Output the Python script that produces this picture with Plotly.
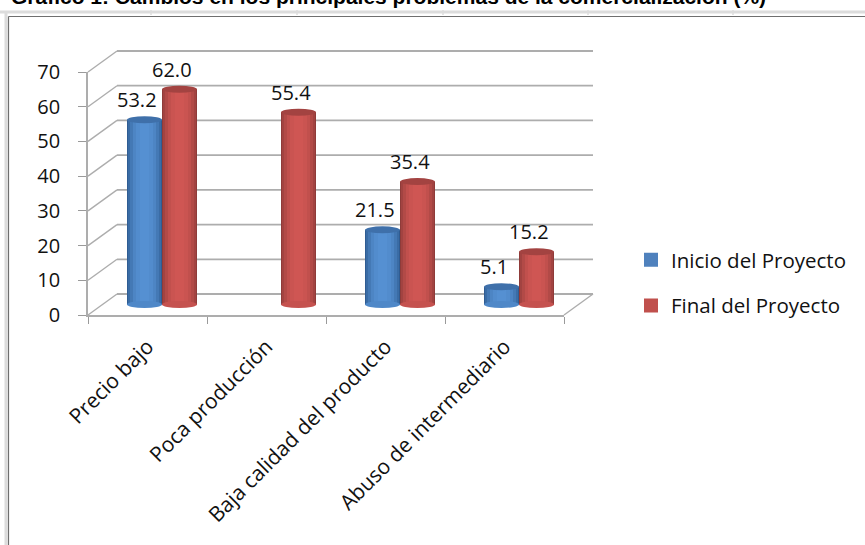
import plotly.graph_objects as go

categories = ["Precio bajo", "Poca producción", "Baja calidad del producto", "Abuso de intermediario"]
inicio = [53.2, None, 21.5, 5.1]
final = [62.0, 55.4, 35.4, 15.2]
y_ticks = [0, 10, 20, 30, 40, 50, 60, 70]
title = "Gráfico 1: Cambios en los principales problemas de la comercialización (%)"

W, H = 865, 545
L, R, T, B = 88, 564, 72, 315      # plot box in pixels
DX, DY = 29, 21                    # depth of the 3-D look in pixels
YMAX = 70
FONT = "Open Sans"
TXT = "#111111"
GRID = "#adadad"

px_x = (R - L) / 4                 # pixels per category
px_y = (B - T) / YMAX              # pixels per value unit
base_val = (DY / 2) / px_y
shift = (DX / 2) / px_x
bar_w = 35 / px_x


def mix(a, b, t):
    ca = [int(a[i:i + 2], 16) for i in (1, 3, 5)]
    cb = [int(b[i:i + 2], 16) for i in (1, 3, 5)]
    return "#" + "".join(f"{round(p + (q - p) * t):02x}" for p, q in zip(ca, cb))


def fx(p):
    return (p - L) / (R - L)


def fy(p):
    return (B - p) / (B - T)


series = [
    ("Inicio del Proyecto", inicio, "#4F81BD", "#2f5c92", "#5590d2", "#3f70aa", -1),
    ("Final del Proyecto", final, "#C0504D", "#8f3b39", "#cf5653", "#a34341", 0),
]

fig = go.Figure()
shapes = []
annots = []

# back wall and side wall gridlines
for v in y_ticks:
    yf = v / YMAX
    dy = DY / (B - T)
    dx = DX / (R - L)
    shapes.append(dict(type="line", xref="paper", yref="paper", x0=dx, x1=1 + dx, y0=yf + dy, y1=yf + dy,
                       line=dict(color=GRID, width=1.8), layer="below"))
    shapes.append(dict(type="line", xref="paper", yref="paper", x0=0, x1=dx, y0=yf, y1=yf + dy,
                       line=dict(color=GRID, width=1.4), layer="below"))
shapes.append(dict(type="line", xref="paper", yref="paper", x0=1, x1=1 + DX / (R - L), y0=0, y1=DY / (B - T),
                   line=dict(color=GRID, width=1.4), layer="below"))

# cylinders
profile = [0.0, 0.3, 0.55, 0.78, 0.92, 1.0]
widths = [1.0, 0.92, 0.82, 0.68, 0.5, 0.28]
for name, vals, color, edge, centre, top, side in series:
    off_left = shift + side * bar_w
    inner = bar_w * 0.8
    fig.add_trace(go.Bar(x=categories, y=vals, base=base_val, name=name, width=inner,
                         offset=off_left + (bar_w - inner) / 2,
                         marker=dict(color=color, line=dict(width=2, color=color)), legendgroup=name,
                         hoverinfo="skip"))
    for t, w in zip(profile, widths):
        sw = bar_w * w
        fig.add_trace(go.Bar(x=categories, y=vals, base=base_val, width=sw,
                             offset=off_left + (bar_w - sw) / 2,
                             marker=dict(color=mix(edge, centre, t), line=dict(width=0)),
                             showlegend=False, hoverinfo="skip", legendgroup=name))
    for i, v in enumerate(vals):
        if v is None:
            continue
        x0 = i + off_left
        x1 = x0 + bar_w
        h = 3.5 / px_y
        shapes.append(dict(type="circle", xref="x", yref="y", x0=x0, x1=x1,
                           y0=base_val - h, y1=base_val + h,
                           fillcolor=mix(edge, centre, 0.85), line=dict(width=0), layer="above"))
        shapes.append(dict(type="circle", xref="x", yref="y", x0=x0, x1=x1,
                           y0=base_val + v - h, y1=base_val + v + h,
                           fillcolor=top, line=dict(width=0), layer="above"))
        annots.append(dict(xref="x", yref="y", x=x0 + bar_w / 2, y=base_val + v, text=f"{v:.1f}",
                           showarrow=False, xshift=-8, yshift=20,
                           font=dict(family=FONT, size=20, color=TXT)))


# sheet furniture around the chart
def pline(x0, y0, x1, y1, color, width):
    shapes.append(dict(type="line", xref="paper", yref="paper", x0=fx(x0), x1=fx(x1), y0=fy(y0), y1=fy(y1),
                       line=dict(color=color, width=width), layer="below"))


pline(0, 12, W, 12, "#dcdcdc", 3)
pline(6, 12, 6, H, "#dcdcdc", 3)
pline(8.5, 16.5, W, 16.5, "#6f6f6f", 1.2)
pline(8.5, 16.5, 8.5, H, "#6f6f6f", 1.2)
for cx in (151, 297, 443, 588, 733):
    pline(cx, 10, cx, 15, "#dcdcdc", 1.5)

annots.append(dict(xref="paper", yref="paper", x=fx(9), y=fy(10), xanchor="left", yanchor="bottom",
                   text=f"<b>{title}</b>", showarrow=False,
                   font=dict(family="Liberation Sans", size=21, color="#000000")))

fig.update_layout(
    width=W, height=H,
    margin=dict(l=L, r=W - R, t=T, b=H - B, pad=0),
    paper_bgcolor="white", plot_bgcolor="rgba(0,0,0,0)",
    barmode="overlay", bargap=0,
    shapes=shapes, annotations=annots,
    showlegend=True,
    legend=dict(x=fx(631), y=fy(240), xanchor="left", yanchor="top", tracegroupgap=16,
                font=dict(family=FONT, size=20.5, color=TXT), itemwidth=30,
                bgcolor="rgba(0,0,0,0)", traceorder="grouped", itemclick=False, itemdoubleclick=False),
    xaxis=dict(type="category", categoryorder="array", categoryarray=categories, range=[-0.5, 3.5],
               tickson="boundaries", ticks="outside", ticklen=7, tickcolor="#9a9a9a", tickwidth=1.4,
               showline=True, linecolor=GRID, linewidth=2, showgrid=False, zeroline=False,
               ticklabelstandoff=9,
               tickangle=-45, tickfont=dict(family=FONT, size=21, color=TXT), automargin=False),
    yaxis=dict(range=[0, YMAX], tickvals=y_ticks, ticks="outside", ticklen=8, tickcolor="#9a9a9a", tickwidth=1.4,
               showline=True, linecolor=GRID, linewidth=1.6, showgrid=False, zeroline=False,
               ticklabelstandoff=14, tickfont=dict(family=FONT, size=20, color=TXT), automargin=False),
)

fig.write_html("out.html", config={"displayModeBar": False},
               post_script="document.documentElement.style.overflow='hidden';document.body.style.margin='0';document.body.style.overflow='hidden';")
